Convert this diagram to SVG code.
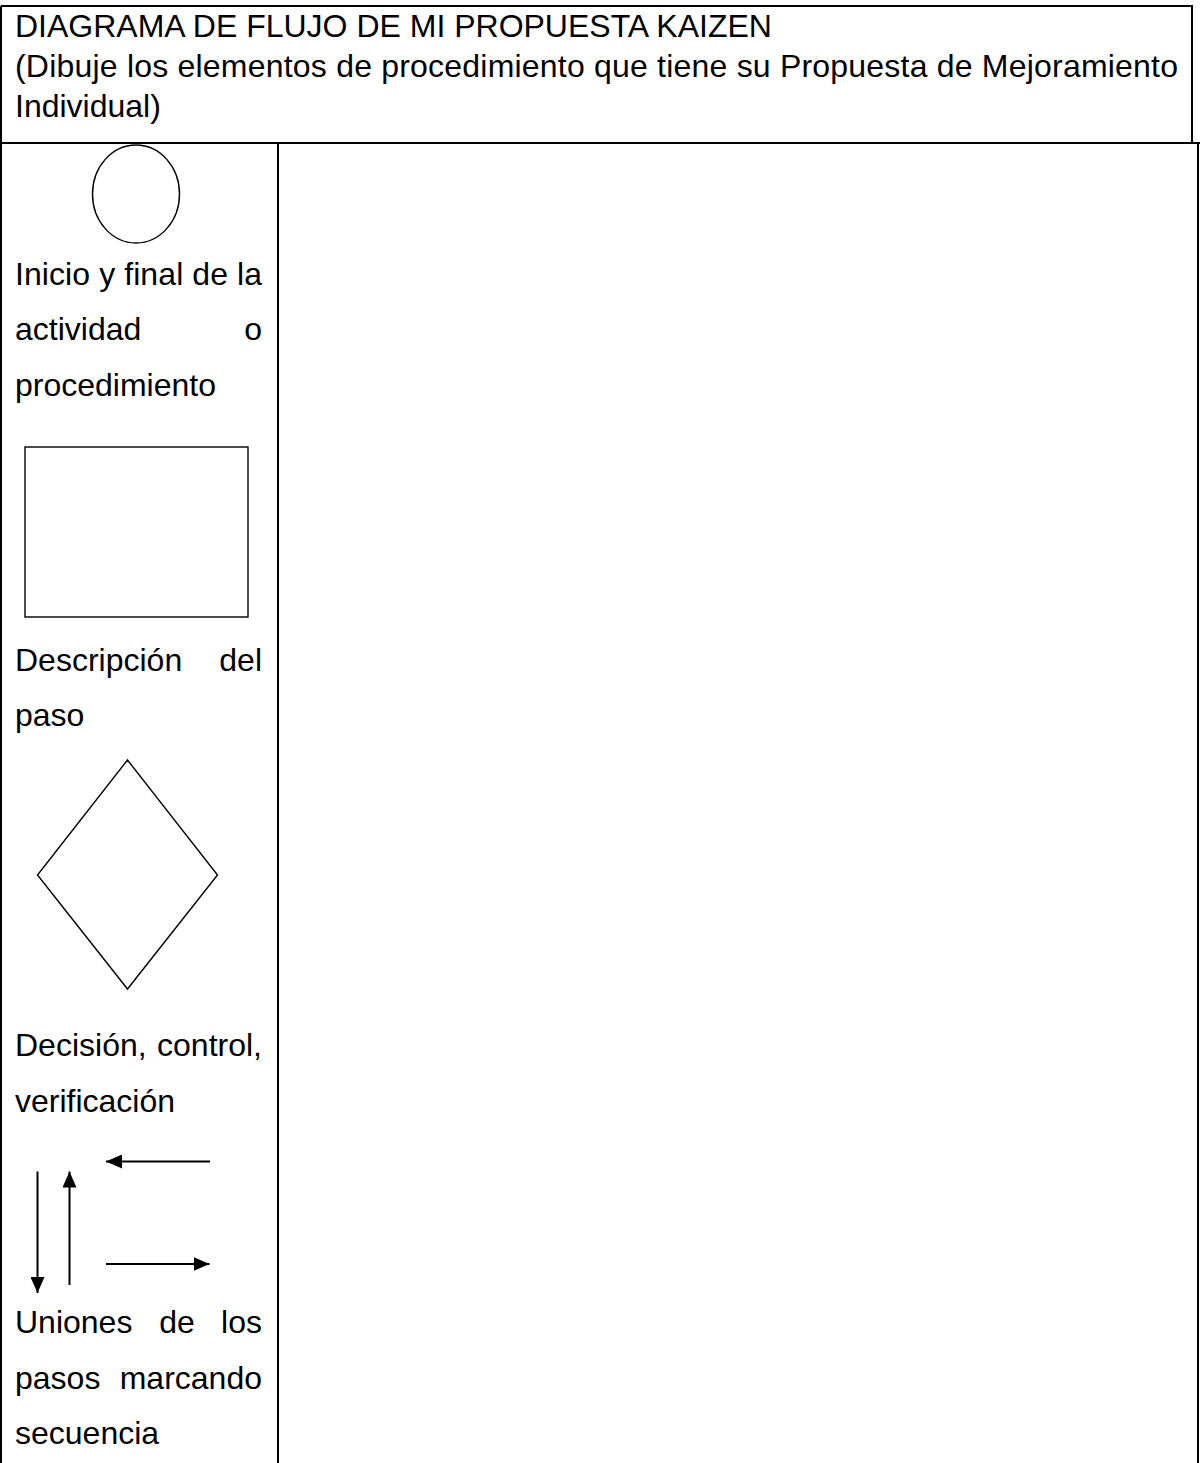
<svg xmlns="http://www.w3.org/2000/svg" width="1200" height="1463" viewBox="0 0 1200 1463">
<style>
text{font-family:"Liberation Sans",Arial,sans-serif;font-size:32px;fill:#000}
.tbl{stroke:#000;stroke-width:2;fill:none}
.shp{stroke:#000;stroke-width:1.4;fill:none}
.arr{stroke:#000;stroke-width:2;fill:none}
</style>
<defs>
<marker id="ah" viewBox="0 0 16 14" refX="16" refY="7" markerWidth="16" markerHeight="14" markerUnits="userSpaceOnUse" orient="auto">
<path d="M0,0 L16,7 L0,14 Z" fill="#000"/>
</marker>
</defs>
<rect width="1200" height="1463" fill="#fff"/>
<g id="table">
<path class="tbl" d="M1,6 H1192 V143 M1,6 V1463 M1,143 H1200 M278,143 V1463 M1198,143 V1463"/>
</g>
<g id="header">
<text x="15" y="37">DIAGRAMA DE FLUJO DE MI PROPUESTA KAIZEN</text>
<text x="15" y="77" textLength="1163" lengthAdjust="spacing">(Dibuje los elementos de procedimiento que tiene su Propuesta de Mejoramiento</text>
<text x="15" y="117">Individual)</text>
</g>
<g id="inicio">
<ellipse class="shp" cx="136" cy="194" rx="43.5" ry="49"/>
<text x="15" y="285" textLength="247" lengthAdjust="spacing">Inicio y final de la</text>
<text x="15" y="340">actividad</text>
<text x="262" y="340" text-anchor="end">o</text>
<text x="15" y="396">procedimiento</text>
</g>
<g id="paso">
<rect class="shp" x="25" y="447" width="223" height="170"/>
<text x="15" y="671">Descripción</text>
<text x="262" y="671" text-anchor="end">del</text>
<text x="15" y="726">paso</text>
</g>
<g id="decision">
<polygon class="shp" points="127.5,760 217.5,875 127.5,989 37.5,875"/>
<text x="15" y="1056">Decisión,</text>
<text x="262" y="1056" text-anchor="end">control,</text>
<text x="15" y="1112">verificación</text>
</g>
<g id="connectors">
<line class="arr" x1="210" y1="1161.5" x2="106" y2="1161.5" marker-end="url(#ah)"/>
<line class="arr" x1="37.5" y1="1171.5" x2="37.5" y2="1293" marker-end="url(#ah)"/>
<line class="arr" x1="69.5" y1="1285" x2="69.5" y2="1171.5" marker-end="url(#ah)"/>
<line class="arr" x1="106" y1="1264" x2="209.5" y2="1264" marker-end="url(#ah)"/>
</g>
<g id="uniones">
<text x="15" y="1333">Uniones</text>
<text x="177" y="1333" text-anchor="middle">de</text>
<text x="262" y="1333" text-anchor="end">los</text>
<text x="15" y="1389">pasos</text>
<text x="262" y="1389" text-anchor="end">marcando</text>
<text x="15" y="1444">secuencia</text>
</g>
</svg>
